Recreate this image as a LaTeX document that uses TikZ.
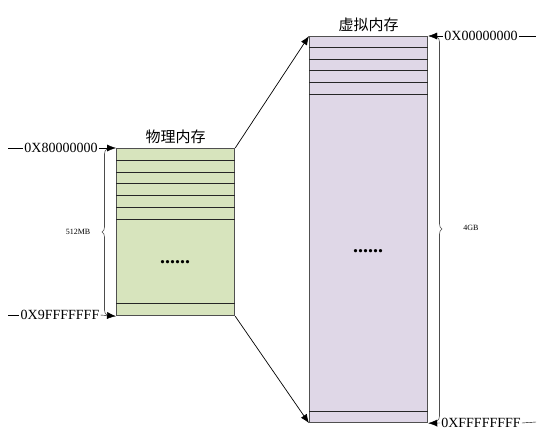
\documentclass[tikz,border=0pt]{standalone}
\usepackage{fontspec}
\setmainfont{Liberation Serif}
\newfontfamily\cjk{Noto Sans CJK SC}
\usepackage{tikz}
\usetikzlibrary{arrows.meta}
\usetikzlibrary{positioning}
\usetikzlibrary{decorations.pathreplacing}
\definecolor{physgreen}{RGB}{215,228,189}
\definecolor{virtpurple}{RGB}{223,215,231}
\definecolor{boxgray}{RGB}{80,80,80}

\begin{document}
\begin{tikzpicture}[x=1pt, y=-1pt, >={Latex[length=9pt,width=7pt]},
    membox/.style={draw=boxgray, line width=1.2pt, inner sep=0pt, anchor=north west},
    rowline/.style={line width=0.9pt, black!85},
    addr/.style={font=\fontsize{14}{14}\selectfont, inner sep=1pt},
    title/.style={font=\cjk\fontsize{15}{15}\selectfont},
    sizelbl/.style={font=\fontsize{8}{8}\selectfont},
    dots/.style={font=\bfseries\fontsize{20}{20}\selectfont, anchor=base},
    link/.style={draw, line width=0.7pt, ->},
    membrace/.style={decorate, decoration={brace, amplitude=5pt}, line width=0.6pt, black!70}
  ]
\useasboundingbox (0,0) rectangle (544,436);

% physical memory
\node[membox, fill=physgreen, minimum width=118pt, minimum height=167pt] (phys) at (116,148) {};
\foreach \y in {160,172,183,195,207,219,303}
  \draw[rowline] (phys.west |- 0,\y) -- (phys.east |- 0,\y);
\node[title, above=1pt of phys] (physname) {物理内存};
\node[dots] (physdots) at (175,263) {......};

% virtual memory
\node[membox, fill=virtpurple, minimum width=118pt, minimum height=386pt] (virt) at (309,36) {};
\foreach \y in {47,59,70,82,94,411}
  \draw[rowline] (virt.west |- 0,\y) -- (virt.east |- 0,\y);
\node[title, above=1pt of virt] (virtname) {虚拟内存};
\node[dots] (virtdots) at (368,252) {......};

% mapping
\draw[link] (phys.north east) -- (virt.north west);
\draw[link] (phys.south east) -- (virt.south west);

% addresses
\coordinate (physstart) at (8,148);
\coordinate (physend) at (8,315);
\node[addr] (addrlow) at (61,148) {0X80000000};
\node[addr] (addrhigh) at (60,315) {0X9FFFFFFF};
\draw (physstart) -- (addrlow.west);
\draw[->] (addrlow.east) -- (phys.north west);
\draw (physend) -- (addrhigh.west);
\draw[->] (addrhigh.east) -- (phys.south west);

\coordinate (virtstart) at (536,36);
\coordinate (virtend) at (536,422);
\node[addr] (vaddrlow) at (481,36) {0X00000000};
\node[addr] (vaddrhigh) at (481,423) {0XFFFFFFFF};
\draw (vaddrlow.east) -- (virtstart);
\draw[->] (vaddrlow.west) -- (virt.north east);
\draw (vaddrhigh.east) -- (virtend);
\draw[->] (vaddrhigh.west) -- (virt.south east);

% sizes
\draw[membrace] (107,315) -- (107,149);
\node[sizelbl] (physsize) at (78,232) {512MB};
\draw[membrace] (437,37) -- (437,421);
\node[sizelbl] (virtsize) at (471,228) {4GB};
\end{tikzpicture}
\end{document}
